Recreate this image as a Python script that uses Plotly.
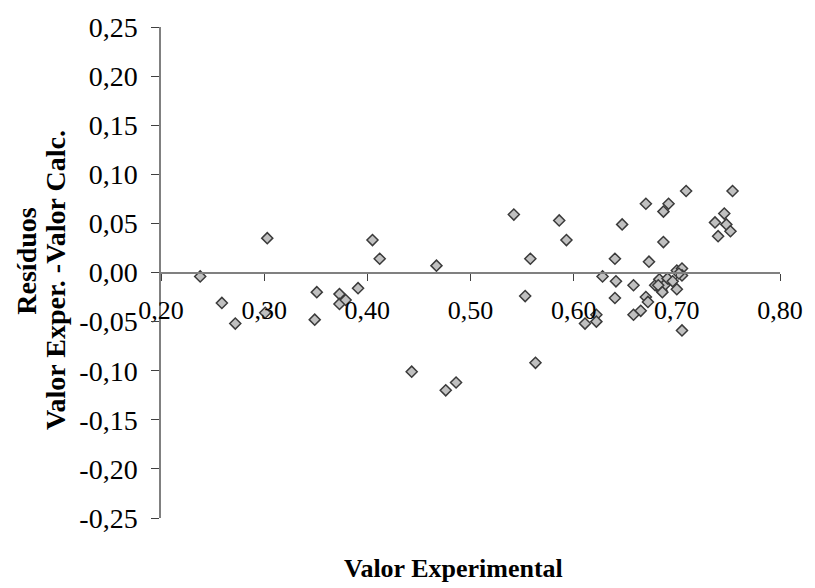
import plotly.graph_objects as go

valor_experimental = [
    0.238, 0.303, 0.259, 0.272, 0.301, 0.351, 0.349, 0.373, 0.373, 0.379,
    0.391, 0.405, 0.412, 0.467, 0.443, 0.476, 0.486,
    0.542, 0.558, 0.553, 0.563, 0.586, 0.593, 0.611, 0.622, 0.622, 0.628,
    0.640, 0.641, 0.640, 0.647, 0.658, 0.658, 0.665, 0.670, 0.670, 0.672,
    0.673, 0.679, 0.683, 0.685, 0.687, 0.687, 0.688, 0.692, 0.691, 0.696,
    0.700, 0.700, 0.705, 0.705, 0.705, 0.709, 0.737, 0.740, 0.746, 0.748,
    0.752, 0.754, 0.682, 0.686, 0.702,
]
residuos = [
    -0.004, 0.035, -0.031, -0.052, -0.041, -0.020, -0.048, -0.022, -0.032, -0.028,
    -0.016, 0.033, 0.014, 0.007, -0.101, -0.120, -0.112,
    0.059, 0.014, -0.024, -0.092, 0.053, 0.033, -0.052, -0.043, -0.050, -0.004,
    0.014, -0.009, -0.026, 0.049, -0.013, -0.043, -0.039, 0.070, -0.025, -0.030,
    0.011, -0.013, -0.007, -0.018, 0.062, 0.031, -0.013, 0.070, -0.006, -0.009,
    -0.017, 0.002, 0.004, -0.003, -0.059, 0.083, 0.051, 0.037, 0.060, 0.049,
    0.042, 0.083, -0.013, -0.020, -0.001,
]

x_ticks = [0.2, 0.3, 0.4, 0.5, 0.6, 0.7, 0.8]
x_tick_labels = ["0,20", "0,30", "0,40", "0,50", "0,60", "0,70", "0,80"]
y_ticks = [-0.25, -0.2, -0.15, -0.1, -0.05, 0.0, 0.05, 0.1, 0.15, 0.2, 0.25]
y_tick_labels = ["-0,25", "-0,20", "-0,15", "-0,10", "-0,05", "0,00",
                 "0,05", "0,10", "0,15", "0,20", "0,25"]

x_title = "Valor Experimental"
y_title_1 = "Resíduos"
y_title_2 = "Valor Exper. -Valor Calc."

font_family = "Liberation Serif, Times New Roman, serif"

fig = go.Figure()
fig.add_trace(go.Scatter(
    x=valor_experimental, y=residuos, mode="markers",
    marker=dict(symbol="diamond", size=8.5, color="#C0C0C0",
                line=dict(color="#3a3a3a", width=1.5)),
    showlegend=False, cliponaxis=False,
))

fig.update_layout(
    width=815, height=588,
    margin=dict(l=161, r=28, t=20, b=70),
    paper_bgcolor="white", plot_bgcolor="white",
    font=dict(family=font_family, size=26, color="black"),
    xaxis=dict(
        range=[0.2, 0.8], tickvals=x_ticks, ticktext=x_tick_labels,
        anchor="free", position=0.5,
        showline=True, linecolor="#808080", linewidth=2,
        ticks="outside", ticklen=7, tickcolor="#404040", tickwidth=1,
        ticklabelstandoff=7,
        showgrid=False, zeroline=False,
        tickfont=dict(family=font_family, size=26),
    ),
    yaxis=dict(
        range=[-0.25, 0.25], tickvals=y_ticks, ticktext=y_tick_labels,
        showline=True, linecolor="#808080", linewidth=1.5,
        ticks="outside", ticklen=8, tickcolor="#404040", tickwidth=1,
        ticklabelstandoff=8,
        showgrid=False, zeroline=False,
        tickfont=dict(family=font_family, size=28),
    ),
    annotations=[
        dict(text="<b>" + x_title + "</b>", xref="paper", yref="paper",
             x=0.473, y=-0.102, xanchor="center", yanchor="middle",
             showarrow=False, font=dict(family=font_family, size=26)),
        dict(text="<b>" + y_title_1 + "</b>",
             xref="paper", yref="paper", x=-0.2173, y=0.523,
             xanchor="center", yanchor="middle", textangle=-90,
             showarrow=False, font=dict(family=font_family, size=28)),
        dict(text="<b>" + y_title_2 + "</b>",
             xref="paper", yref="paper", x=-0.1693, y=0.485,
             xanchor="center", yanchor="middle", textangle=-90,
             showarrow=False, font=dict(family=font_family, size=28)),
    ],
)

fig.write_html("out.html")
